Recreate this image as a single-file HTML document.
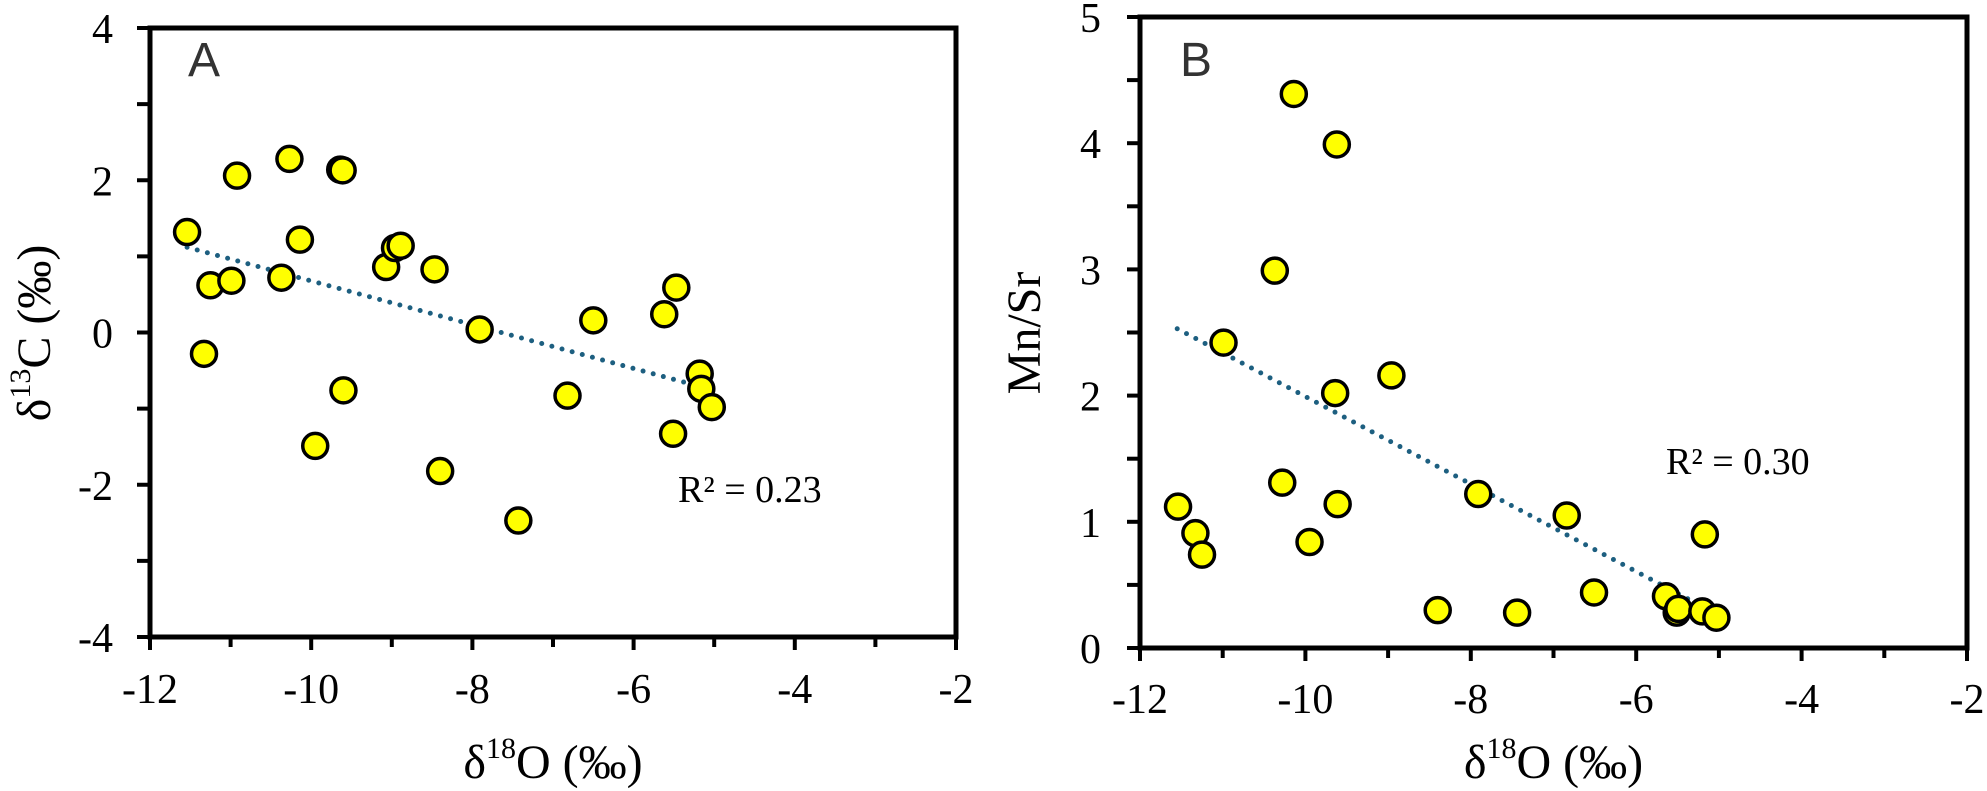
<!DOCTYPE html>
<html><head><meta charset="utf-8"><style>
html,body{margin:0;padding:0;background:#fff;}
svg{display:block;}
text{font-family:"Liberation Serif",serif;fill:#000;}
</style></head><body>
<svg id="fig" width="1987" height="791" viewBox="0 0 1987 791" xmlns="http://www.w3.org/2000/svg"></svg>
<script>
// Panel A data: d18O vs d13C
const aX = [-11.54,-10.92,-10.27,-9.64,-9.61,-10.14,-11.25,-10.99,-10.37,-11.33,-9.07,-8.96,-8.89,-8.47,-7.91,-9.60,-9.95,-8.40,-7.43,-6.82,-6.50,-5.62,-5.47,-5.51,-5.18,-5.16,-5.03];
const aY = [1.32,2.06,2.28,2.14,2.13,1.22,0.62,0.68,0.72,-0.28,0.86,1.11,1.14,0.83,0.04,-0.76,-1.49,-1.82,-2.47,-0.83,0.16,0.24,0.59,-1.33,-0.54,-0.74,-0.98];
const aTrendX = [-11.54,-5.07];
const aTrendY = [1.12,-0.74];
const aYTicks = [4,2,0,-2,-4];
const aR2 = "R² = 0.23";
// Panel B data: d18O vs Mn/Sr
const bX = [-10.14,-9.62,-10.37,-10.99,-8.96,-9.64,-10.28,-11.54,-9.61,-7.91,-6.84,-11.33,-11.25,-9.95,-5.17,-6.51,-8.40,-7.44,-5.64,-5.51,-5.49,-5.20,-5.03];
const bY = [4.39,3.99,2.99,2.42,2.16,2.02,1.31,1.12,1.14,1.22,1.05,0.91,0.74,0.84,0.90,0.44,0.30,0.28,0.41,0.28,0.31,0.29,0.24];
const bTrendX = [-11.55,-5.06];
const bTrendY = [2.53,0.28];
const bYTicks = [0,1,2,3,4,5];
const bR2 = "R² = 0.30";
const xTicks = [-12,-10,-8,-6,-4,-2];

const NS="http://www.w3.org/2000/svg";
const svg=document.getElementById('fig');
function mk(tag,attrs,parent){const e=document.createElementNS(NS,tag);for(const k in attrs)e.setAttribute(k,attrs[k]);(parent||svg).appendChild(e);return e;}

function panel(p){
  const g=mk('g',{});
  
  
  const sx=v=>p.x0+(v-(-12))/10*(p.x1-p.x0);
  const sy=v=>p.y1-(v-p.ymin)/(p.ymax-p.ymin)*(p.y1-p.y0);
  // ticks
  for(let v=-12;v<=-2;v++){
    const major=(v%2===0);
    const t=mk('line',{x1:sx(v),x2:sx(v),y1:p.y1,y2:p.y1+(major?13:10),stroke:'#000','stroke-width':4},g);
    
    
  }
  for(let v=p.ymin;v<=p.ymax+1e-9;v+=p.minorStep){
    const t=mk('line',{x1:p.x0-13,x2:p.x0,y1:sy(v),y2:sy(v),stroke:'#000','stroke-width':4},g);
    
    
  }
  const fr=mk('rect',{x:p.x0,y:p.y0,width:p.x1-p.x0,height:p.y1-p.y0,fill:'none',stroke:'#000','stroke-width':5},g);
  
  
  xTicks.forEach(v=>{
    const t=mk('text',{x:sx(v),y:p.xLabelY,'text-anchor':'middle','font-size':42,transform:''},g);
    t.textContent=String(v);
    
    
  });
  p.yTicks.forEach(v=>{
    const t=mk('text',{x:p.yLabelX,y:sy(v)+15,'text-anchor':'end','font-size':42},g);
    t.textContent=String(v);
    
    
  });
  // trend
  const tr=mk('line',{x1:sx(p.tx[0]),y1:sy(p.ty[0]),x2:sx(p.tx[1]),y2:sy(p.ty[1]),stroke:'#1d5f80','stroke-width':5,'stroke-linecap':'round','stroke-dasharray':'0 10.5'},g);
  
  
  p.xs.forEach((v,i)=>{
    const c=mk('circle',{cx:sx(v),cy:sy(p.ys[i]),r:12.5,fill:'#ffff00',stroke:'#000','stroke-width':3.5},g);
    
    
  });
  const lab=mk('text',{x:p.labX,y:76,'font-size':48,style:'font-family:"Liberation Sans",sans-serif;fill:#333'},g);
  lab.textContent=p.letter;
  
  
  const r2=mk('text',{x:p.r2x,y:p.r2y,'font-size':38},g);
  r2.textContent=p.r2;
  
  
  const xt=mk('text',{x:(p.x0+p.x1)/2,y:778,'text-anchor':'middle','font-size':48},g);
  xt.innerHTML='δ<tspan font-size="30" dy="-20">18</tspan><tspan dy="20">O (‰)</tspan>';
  
  
  const yt=mk('text',{x:0,y:0,'text-anchor':'middle','font-size':48,transform:`translate(${p.ytX},${p.ytY}) rotate(-90)`},g);
  yt.innerHTML=p.ytitle;
  
  
}

panel({name:'panel-a',letter:'A',x0:150,x1:956,y0:28,y1:637,ymin:-4,ymax:4,minorStep:1,yTicks:aYTicks,
  xs:aX,ys:aY,tx:aTrendX,ty:aTrendY,xLabelY:703,yLabelX:113,labX:188,r2:aR2,r2x:678,r2y:502,
  ytX:50,ytY:333,ytitle:'δ<tspan font-size="30" dy="-20">13</tspan><tspan dy="20">C (‰)</tspan>'});
panel({name:'panel-b',letter:'B',x0:1140,x1:1967,y0:17,y1:648,ymin:0,ymax:5,minorStep:0.5,yTicks:bYTicks,
  xs:bX,ys:bY,tx:bTrendX,ty:bTrendY,xLabelY:713,yLabelX:1101,labX:1180,r2:bR2,r2x:1666,r2y:474,
  ytX:1040,ytY:333,ytitle:'Mn/Sr'});
</script>
</body></html>
